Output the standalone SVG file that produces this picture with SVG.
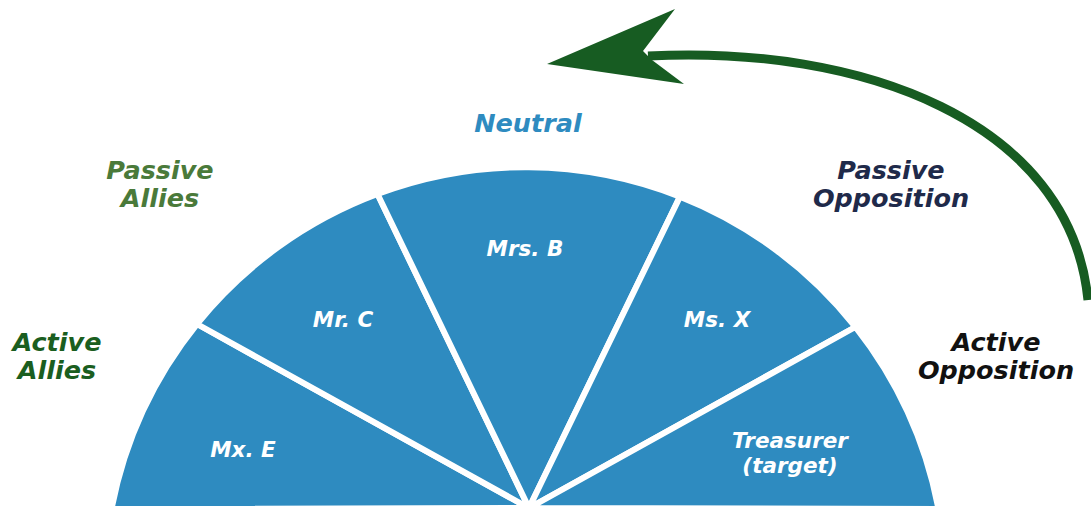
<svg xmlns="http://www.w3.org/2000/svg" width="1091" height="508" viewBox="0 0 1091 508">
<style>
.slice{fill:#2E8BC0;stroke:#ffffff;stroke-width:6;stroke-linejoin:round}
.lbl{font-family:"DejaVu Sans","Liberation Sans",sans-serif;font-weight:700;font-style:italic;text-anchor:middle}
.in{fill:#ffffff;font-size:21.5px}
.out{font-size:25.5px}
</style>
<rect width="1091" height="508" fill="#ffffff"/>
<g id="slice-mxe"><path class="slice" d="M529,508 L111.5,509 A421,421 0 0 1 197,324 Z"/><text class="lbl in" x="243" y="457">Mx. E</text></g>
<g id="slice-mrc"><path class="slice" d="M529,508 L197,324 A421,421 0 0 1 377.5,194 Z"/><text class="lbl in" x="343" y="327">Mr. C</text></g>
<g id="slice-mrsb"><path class="slice" d="M529,508 L377.5,194 A421,421 0 0 1 680,196.6 Z"/><text class="lbl in" x="525" y="256">Mrs. B</text></g>
<g id="slice-msx"><path class="slice" d="M529,508 L680,196.6 A421,421 0 0 1 855.4,327 Z"/><text class="lbl in" x="717" y="327">Ms. X</text></g>
<g id="slice-treasurer"><path class="slice" d="M529,508 L855.4,327 A421,421 0 0 1 938.5,509 Z"/><text class="lbl in" x="790" y="448" font-size="20.5">Treasurer</text><text class="lbl in" x="790" y="473" font-size="20.5">(target)</text></g>
<g id="label-neutral"><text class="lbl out" x="528" y="132" fill="#2E8BC0">Neutral</text></g>
<g id="label-passive-allies"><text class="lbl out" x="160" y="179" fill="#4A7A3A">Passive</text><text class="lbl out" x="160" y="207" fill="#4A7A3A">Allies</text></g>
<g id="label-active-allies"><text class="lbl out" x="57" y="351" fill="#1A5E20">Active</text><text class="lbl out" x="57" y="379" fill="#1A5E20">Allies</text></g>
<g id="label-passive-opposition"><text class="lbl out" x="891" y="179" fill="#1F2A4A">Passive</text><text class="lbl out" x="891" y="207" fill="#1F2A4A">Opposition</text></g>
<g id="label-active-opposition"><text class="lbl out" x="996" y="351" fill="#111111">Active</text><text class="lbl out" x="996" y="379" fill="#111111">Opposition</text></g>
<g id="connectors">
<path d="M1088,300 C1070,120 860,45 648,56" fill="none" stroke="#175C22" stroke-width="9"/>
<polygon points="547,64 675,9 643,51 652,60 684,84" fill="#175C22"/>
</g>
</svg>
